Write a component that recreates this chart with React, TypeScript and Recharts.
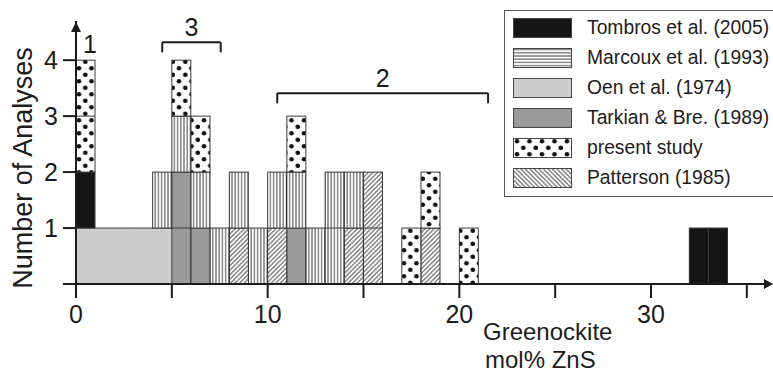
import { Bar, BarChart, ReferenceDot, ReferenceLine, XAxis, YAxis } from "recharts";

const FONT = '"Liberation Sans", Arial, sans-serif';
const INK = "#1c1c1c";
const EDGE = "#3a3a3a";

// bins of 1 mol% ZnS, 0..35
const BINS = [
  0, 1, 2, 3, 4, 5, 6, 7, 8, 9, 10, 11, 12, 13, 14, 15, 16, 17, 18, 19, 20,
  21, 22, 23, 24, 25, 26, 27, 28, 29, 30, 31, 32, 33, 34, 35,
];

// counts per bin, in stacking order (bottom -> top)
const OEN = [1,1,1,1,1,0,0,0,0,0, 0,0,0,0,0,0,0,0,0,0, 0,0,0,0,0,0,0,0,0,0, 0,0,0,0,0,0];
const TARKIAN = [0,0,0,0,0,2,1,0,0,0, 0,1,0,0,0,0,0,0,0,0, 0,0,0,0,0,0,0,0,0,0, 0,0,0,0,0,0];
const TOMBROS = [1,0,0,0,0,0,0,0,0,0, 0,0,0,0,0,0,0,0,0,0, 0,0,0,0,0,0,0,0,0,0, 0,0,1,1,0,0];
const PATTERSON = [0,0,0,0,0,0,0,0,1,0, 1,0,0,0,1,2,0,0,1,0, 0,0,0,0,0,0,0,0,0,0, 0,0,0,0,0,0];
const MARCOUX = [0,0,0,0,1,1,1,1,1,1, 1,1,1,2,1,0,0,0,0,0, 0,0,0,0,0,0,0,0,0,0, 0,0,0,0,0,0];
const PRESENT = [2,0,0,0,0,1,1,0,0,0, 0,1,0,0,0,0,0,1,1,0, 1,0,0,0,0,0,0,0,0,0, 0,0,0,0,0,0];

const X_TICKS = [0, 5, 10, 15, 20, 25, 30, 35];
const Y_TICKS = [0, 1, 2, 3, 4];

const LEGEND_NAMES = [
  "Tombros et al. (2005)",
  "Marcoux et al. (1993)",
  "Oen et al. (1974)",
  "Tarkian & Bre. (1989)",
  "present study",
  "Patterson (1985)",
];
const LEGEND_FILLS = [
  "#151515",
  "url(#hstripes)",
  "#cdcdcd",
  "#9a9a9a",
  "url(#dots)",
  "url(#hatchBack)",
];

// group brackets above the histogram
const GROUP_LABELS = ["3", "2"];
const GROUP_FROM = [4.5, 10.5];
const GROUP_TO = [7.55, 21.5];
const GROUP_Y = [4.32, 3.41];

type Series = { key: string; values: number[]; fill: string; sides: boolean };

const SERIES: Series[] = [
  { key: "oen", values: OEN, fill: "#cdcdcd", sides: false },
  { key: "tarkian", values: TARKIAN, fill: "#9a9a9a", sides: true },
  { key: "tombros", values: TOMBROS, fill: "#151515", sides: true },
  { key: "patterson", values: PATTERSON, fill: "url(#hatch)", sides: true },
  { key: "marcoux", values: MARCOUX, fill: "url(#vstripes)", sides: true },
  { key: "present", values: PRESENT, fill: "url(#dots)", sides: true },
];

const data = BINS.map((bin, i) => {
  const row: Record<string, number> = { bin };
  SERIES.forEach((s) => {
    row[s.key] = s.values[i];
  });
  return row;
});

function makeShape(s: Series) {
  return (props: any) => {
    const { x, y, width, height, payload } = props;
    const n = payload ? payload[s.key] : 0;
    if (!n || !height || height <= 0) return <g />;
    const lines = [];
    for (let k = 1; k < n; k++) {
      const yy = y + (height * k) / n;
      lines.push(
        <line key={k} x1={x} x2={x + width} y1={yy} y2={yy} stroke={EDGE} strokeWidth={1} />
      );
    }
    return (
      <g>
        <rect
          x={x}
          y={y}
          width={s.sides ? width : width + 0.6}
          height={height}
          fill={s.fill}
          shapeRendering="crispEdges"
        />
        {s.sides ? (
          <rect x={x} y={y} width={width} height={height} fill="none" stroke={EDGE} strokeWidth={1} />
        ) : (
          <line x1={x} x2={x + width + 0.6} y1={y} y2={y} stroke={EDGE} strokeWidth={1} />
        )}
        {lines}
      </g>
    );
  };
}

function Patterns() {
  return (
    <svg width={0} height={0} style={{ position: "absolute" }}>
      <defs>
        <pattern id="vstripes" width={3.2} height={10} patternUnits="userSpaceOnUse">
          <rect width={3.2} height={10} fill="#fff" />
          <line x1={1.6} x2={1.6} y1={0} y2={10} stroke="#333" strokeWidth={0.9} />
        </pattern>
        <pattern id="hstripes" width={10} height={3.2} patternUnits="userSpaceOnUse">
          <rect width={10} height={3.2} fill="#fff" />
          <line x1={0} x2={10} y1={1.6} y2={1.6} stroke="#333" strokeWidth={0.9} />
        </pattern>
        <pattern id="dots" width={12.5} height={13} patternUnits="userSpaceOnUse">
          <rect width={12.5} height={13} fill="#fff" />
          <circle cx={4} cy={3.25} r={2.3} fill="#111" />
          <circle cx={10.25} cy={9.75} r={2.3} fill="#111" />
        </pattern>
        <pattern id="hatch" width={3.2} height={10} patternUnits="userSpaceOnUse" patternTransform="rotate(45)">
          <rect width={3.2} height={10} fill="#fff" />
          <line x1={1.6} x2={1.6} y1={0} y2={10} stroke="#333" strokeWidth={0.9} />
        </pattern>
        <pattern id="hatchBack" width={3.2} height={10} patternUnits="userSpaceOnUse" patternTransform="rotate(-45)">
          <rect width={3.2} height={10} fill="#fff" />
          <line x1={1.6} x2={1.6} y1={0} y2={10} stroke="#333" strokeWidth={0.9} />
        </pattern>
      </defs>
    </svg>
  );
}

const xArrow = (p: any) => (
  <polygon
    points={`${p.cx + 7},${p.cy} ${p.cx - 2},${p.cy - 5} ${p.cx - 2},${p.cy + 5}`}
    fill={INK}
  />
);
const yArrow = (p: any) => (
  <polygon
    points={`${p.cx},${p.cy + 1} ${p.cx - 5},${p.cy + 11} ${p.cx + 5},${p.cy + 11}`}
    fill={INK}
  />
);

const tickStyle = { fontSize: 25, fill: INK, fontFamily: FONT };

export default function App() {
  return (
    <div style={{ position: "relative", width: 773, height: 373, fontFamily: FONT, overflow: "hidden" }}>
      <style>{"body{margin:0}"}</style>
      <Patterns />
      <BarChart
        width={773}
        height={373}
        data={data}
        margin={{ top: 21, right: 7, bottom: 49, left: 0 }}
        barCategoryGap={0}
        barGap={0}
      >
        <XAxis xAxisId="cat" dataKey="bin" type="category" hide height={0} />
        <XAxis
          xAxisId="num"
          dataKey="bin"
          type="number"
          domain={[0, 36]}
          allowDataOverflow
          ticks={X_TICKS}
          interval={0}
          tickFormatter={(v: number) => (v % 10 === 0 ? String(v) : "")}
          height={40}
          tickSize={14}
          tickMargin={7}
          tick={tickStyle}
          axisLine={{ stroke: INK, strokeWidth: 2 }}
          tickLine={{ stroke: INK, strokeWidth: 2 }}
          label={{
            content: (props: any) => {
              const vb = props.viewBox || { x: 76, y: 284 };
              return (
                <text fontSize={24} fill={INK} fontFamily={FONT}>
                  <tspan x={vb.x + 407} y={vb.y + 56}>Greenockite</tspan>
                  <tspan x={vb.x + 409} y={vb.y + 84}>mol% ZnS</tspan>
                </text>
              );
            },
          }}
        />
        <YAxis
          type="number"
          domain={[0, 4.7]}
          allowDataOverflow
          ticks={Y_TICKS}
          interval={0}
          tickFormatter={(v: number) => (v === 0 ? "" : String(v))}
          width={76}
          tickSize={13}
          tickMargin={5}
          tick={tickStyle}
          axisLine={{ stroke: INK, strokeWidth: 2 }}
          tickLine={{ stroke: INK, strokeWidth: 2 }}
          label={{
            content: (props: any) => {
              const vb = props.viewBox || { x: 0, y: 21, height: 263 };
              const cx = vb.x + 23;
              const cy = 168;
              return (
                <text
                  x={cx}
                  y={cy}
                  transform={`rotate(-90 ${cx} ${cy})`}
                  textAnchor="middle"
                  dominantBaseline="central"
                  fontSize={27}
                  fill={INK}
                  fontFamily={FONT}
                >
                  Number of Analyses
                </text>
              );
            },
          }}
        />
        {SERIES.map((s) => (
          <Bar
            key={s.key}
            dataKey={s.key}
            stackId="a"
            xAxisId="cat"
            isAnimationActive={false}
            shape={makeShape(s)}
          />
        ))}
        {GROUP_LABELS.map((lab, i) => [
          <ReferenceLine
            key={`h${i}`}
            xAxisId="num"
            ifOverflow="visible"
            segment={[
              { x: GROUP_FROM[i], y: GROUP_Y[i] },
              { x: GROUP_TO[i], y: GROUP_Y[i] },
            ]}
            stroke={INK}
            strokeWidth={2}
            label={{ value: lab, position: "top", offset: 6, fontSize: 25, fill: INK, fontFamily: FONT }}
          />,
          <ReferenceLine
            key={`l${i}`}
            xAxisId="num"
            ifOverflow="visible"
            segment={[
              { x: GROUP_FROM[i], y: GROUP_Y[i] },
              { x: GROUP_FROM[i], y: GROUP_Y[i] - 0.18 },
            ]}
            stroke={INK}
            strokeWidth={2}
          />,
          <ReferenceLine
            key={`r${i}`}
            xAxisId="num"
            ifOverflow="visible"
            segment={[
              { x: GROUP_TO[i], y: GROUP_Y[i] },
              { x: GROUP_TO[i], y: GROUP_Y[i] - 0.18 },
            ]}
            stroke={INK}
            strokeWidth={2}
          />,
        ])}
        <ReferenceDot
          xAxisId="num"
          x={0.73}
          y={4.29}
          r={0}
          ifOverflow="visible"
          label={{ value: "1", position: "center", fontSize: 25, fill: INK, fontFamily: FONT }}
        />
        <ReferenceDot xAxisId="num" x={36} y={0} ifOverflow="visible" shape={xArrow} />
        <ReferenceDot xAxisId="num" x={0} y={4.7} ifOverflow="visible" shape={yArrow} />
      </BarChart>
      <div
        style={{
          position: "absolute",
          left: 504,
          top: 10,
          width: 280,
          height: 187,
          border: "1.5px solid #555",
          boxSizing: "border-box",
          background: "#fff",
        }}
      >
        {LEGEND_NAMES.map((name, i) => (
          <div
            key={name}
            style={{
              position: "absolute",
              left: 8,
              top: 7 + i * 30,
              height: 20,
              display: "flex",
              alignItems: "center",
              whiteSpace: "nowrap",
            }}
          >
            <svg width={59} height={20} style={{ display: "block" }}>
              <rect
                x={0.5}
                y={0.5}
                width={58}
                height={19}
                fill={LEGEND_FILLS[i]}
                stroke="#444"
                strokeWidth={1}
              />
            </svg>
            <span style={{ marginLeft: 15, fontSize: 19.3, color: INK, lineHeight: "20px" }}>
              {name}
            </span>
          </div>
        ))}
      </div>
    </div>
  );
}
